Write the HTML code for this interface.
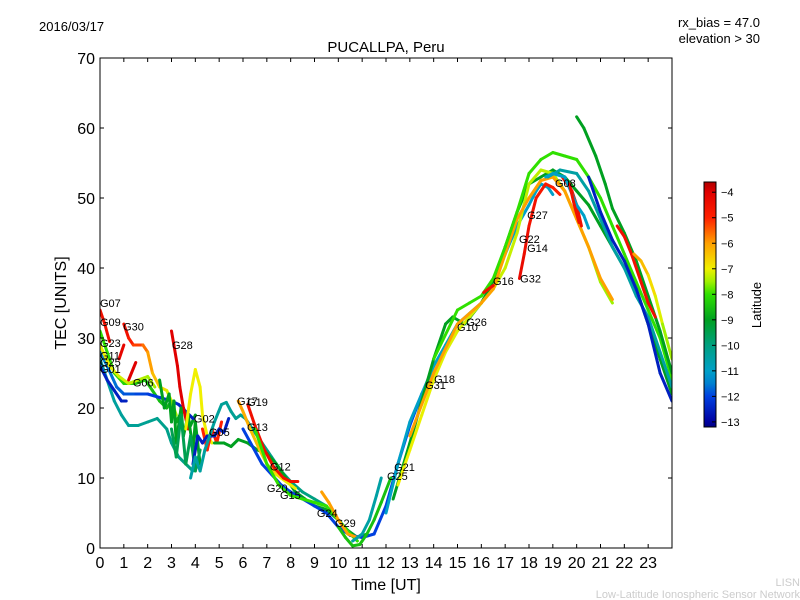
<!DOCTYPE html>
<html><head><meta charset="utf-8"><style>
body{margin:0;background:#fff;}
svg{display:block;font-family:"Liberation Sans","DejaVu Sans",sans-serif;}
</style></head><body>
<svg id="chart" width="800" height="600">
<defs>
<clipPath id="clip"><rect x="100" y="58" width="572" height="490"/></clipPath>
<linearGradient id="jet" x1="0" y1="1" x2="0" y2="0"></linearGradient>
</defs>
<text x="39" y="31" font-size="13">2016/03/17</text>
<text x="760" y="27" font-size="13" text-anchor="end">rx_bias = 47.0</text>
<text x="760" y="43" font-size="13" text-anchor="end">elevation &gt; 30</text>
<text x="386" y="52" font-size="15" text-anchor="middle">PUCALLPA, Peru</text>
<text x="386" y="590" font-size="16" text-anchor="middle">Time [UT]</text>
<text transform="translate(66,303) rotate(-90)" font-size="16" text-anchor="middle">TEC [UNITS]</text>
<text transform="translate(761,305) rotate(-90)" font-size="13" text-anchor="middle">Latitude</text>
<text x="800" y="586" font-size="11" fill="#ccc" text-anchor="end">LISN</text>
<text x="800" y="598" font-size="11" fill="#ccc" text-anchor="end">Low-Latitude Ionospheric Sensor Network</text>
<g id="tracks" clip-path="url(#clip)"></g>
<g id="labels"></g>
<g id="axes"></g>
<rect x="100" y="58" width="572" height="490" fill="none" stroke="#000" stroke-width="1"/>
<rect x="704" y="182" width="12" height="245" fill="url(#jet)" stroke="#000" stroke-width="1"/>
<g id="cbticks"></g>
</svg>
<script>
const xTicks = [0,1,2,3,4,5,6,7,8,9,10,11,12,13,14,15,16,17,18,19,20,21,22,23];
const yTicks = [0,10,20,30,40,50,60,70];
const cbTicks = [-4,-5,-6,-7,-8,-9,-10,-11,-12,-13];
const latMin = -13.2, latMax = -3.6;
const cmapLat = [-13.2,-13,-12,-11.5,-11,-10,-9,-8,-7.5,-7,-6,-5,-4,-3.6];
const cmapCol = [[0,0,128],[0,0,160],[0,64,224],[0,128,208],[0,160,200],[0,160,128],[0,160,32],[48,224,0],[160,240,0],[240,240,0],[255,160,0],[255,32,0],[224,0,0],[176,0,0]];
const trackLatStart = [-4.5,-8,-10.5,-12.5,-11.5,-4.5,-7,-4,-4.2,-4,-9,-9.5,-7,-5,-12.5,-10.5,-9,-6,-4.5,-12,-8,-6,-8.5,-10.5,-12,-11,-9,-7,-6,-8,-9,-10.5,-12.5,-4.5,-6,-4.5,-4.3,-4.5,-11,-4.5];
const trackLatEnd   = [-4.5,-9,-10,-12.5,-12.5,-7.5,-7.5,-4,-4.2,-4,-9,-9.5,-7,-5,-12.5,-10,-9,-7,-4.5,-12,-8,-6,-8.5,-10.5,-12,-11,-9,-7.5,-6,-8,-9,-10.5,-12.5,-4.5,-7.5,-4.5,-5,-4.5,-11,-4.5];
const trackPoints = [
 [[0,34],[0.2,32],[0.4,29.5]],
 [[0,31],[0.3,28],[0.6,25],[1,23.5],[1.5,23.5],[1.9,24],[2.2,22.5],[2.5,21],[2.8,20],[3,21],[3.2,18],[3.5,20],[3.8,17.5],[4,19]],
 [[0,27],[0.3,24],[0.6,21],[0.9,19],[1.2,17.5],[1.6,17.5],[2,18],[2.4,18.5],[2.8,17],[3,15],[3.3,13],[3.6,12],[3.9,11]],
 [[0,26],[0.3,24],[0.6,22.5],[0.9,21],[1.1,21]],
 [[0,28],[0.3,26],[0.7,23],[1,22],[1.5,22],[2,22],[2.5,21.5],[3,21],[3.3,20.5],[3.6,19.5],[3.9,18.5]],
 [[1,32],[1.2,30],[1.4,29],[1.8,29],[2,28],[2.2,25],[2.5,23],[2.8,22.5],[3,21],[3.2,19]],
 [[0,29],[0.4,26],[0.8,24.5],[1.2,23.5],[1.6,24],[2,24.5],[2.3,23]],
 [[1.2,24],[1.5,26.5]],
 [[0.8,27],[1,29]],
 [[3,31],[3.1,29],[3.25,26],[3.35,23],[3.5,20],[3.7,17]],
 [[2.5,24],[2.7,20],[2.9,22],[3.0,18],[3.1,21],[3.2,15],[3.4,20],[3.5,16],[3.7,19],[3.9,14],[4,18],[4.2,12]],
 [[3,17],[3.2,13],[3.4,19],[3.6,12],[3.8,16],[4,11],[4.2,14]],
 [[3.6,17],[3.8,22],[4,25.5],[4.2,23],[4.3,19],[4.5,16],[4.7,15]],
 [[4.3,17],[4.5,14],[4.7,17],[4.9,15],[5.1,18]],
 [[3.9,12],[4.1,16],[4.3,15],[4.5,16],[4.8,16],[5,17],[5.2,16.5],[5.3,17.5],[5.4,18.5]],
 [[3.8,10],[4.0,13],[4.2,11],[4.4,14],[4.6,16],[4.8,18],[5.1,20.5],[5.3,20.8],[5.5,19.5],[5.7,18.5],[5.9,19],[6.1,18.5],[6.4,17],[6.8,15],[7.2,13],[7.6,11],[8,9.5],[8.5,8],[9,7],[9.5,6]],
 [[4.8,15],[5.2,15],[5.5,14.5],[5.8,15.5],[6.2,15],[6.6,14],[7,13.5],[7.4,12],[7.8,10],[8.2,8],[8.6,7],[9,6],[9.5,5.5],[10,4],[10.4,2.5],[10.8,1.5],[11.2,2]],
 [[5.8,21],[6,19.5],[6.3,17],[6.7,14],[7,12],[7.4,10.5],[7.8,9.5],[8.2,8.5]],
 [[6.2,20.5],[6.5,17.5],[6.9,14],[7.3,11.5],[7.7,10],[8,9.5],[8.3,9.5]],
 [[6,17],[6.4,14.5],[6.8,12],[7.2,10.5],[7.6,9],[8,8],[8.5,7],[9,6],[9.5,5],[10,3],[10.5,1.8],[11,1.5],[11.5,2]],
 [[6.5,17],[7,12],[7.5,9],[8,7.5],[8.5,7],[9,6.5],[9.5,6],[10,4],[10.5,2],[10.8,1]],
 [[9.3,8],[9.6,6.5],[10,4],[10.4,2],[10.8,1.5]],
 [[10,3],[10.3,1.5],[10.6,0.3],[10.9,0.5],[11.2,2],[11.5,4],[11.8,6.5],[12.2,10]],
 [[10.6,1],[11,2],[11.3,4],[11.6,7.5],[11.8,10]],
 [[11.5,2],[12,6],[12.5,12],[13,17.5],[13.5,22],[14,25]],
 [[12,5],[12.5,12],[13,18],[13.5,22],[14,26],[14.5,29],[15,32],[15.5,33.5],[16,35],[16.5,38],[17,42],[17.5,46],[18,49],[18.3,51],[18.5,52],[18.8,51.5],[19,50.5]],
 [[12.3,7],[13,15],[13.5,21],[14,27],[14.5,32],[14.8,33],[15.3,32],[16,35],[16.5,38],[17,43],[17.5,48],[18,52],[18.5,53],[19,54],[19.5,53],[20,51],[20.5,49],[21,46],[21.5,43],[22,40],[22.5,37],[23,32],[23.5,27],[24,22]],
 [[12.5,9],[13,14],[13.5,19],[14,24],[14.5,28],[15,31],[15.5,33],[16,35],[16.5,37],[17,40],[17.5,45],[18,52],[18.5,54],[19,53.5],[19.5,51],[20,47],[20.5,43],[21,38],[21.5,35]],
 [[13,16],[14,25],[15,32],[16,35],[16.5,37],[17,42],[17.5,47],[18,50],[18.5,52.5],[19,53],[19.5,51],[20,47],[20.5,43],[21,38.5],[21.5,35.5]],
 [[14,27],[15,34],[15.5,35],[16,36],[16.5,38.5],[17,43],[17.5,48],[18,53.5],[18.5,55.5],[19,56.5],[19.5,56],[20,55.5],[20.5,53],[21,50],[21.5,46],[22,42],[22.5,38],[23,34],[23.5,30],[24,24]],
 [[20,61.6],[20.3,60],[20.8,56],[21.2,52],[21.5,48.5],[22,45],[22.5,41],[23,36],[23.5,31],[24,25]],
 [[18.8,53],[19.3,54],[20,53.5],[20.5,51],[21,47],[21.5,43],[22,40],[22.5,36],[23,33],[23.5,28],[24,23]],
 [[20.5,53],[21,48],[21.5,44],[22,41],[22.5,37],[23,32],[23.5,25],[24,21]],
 [[21.7,46],[22,44.5],[22.3,42],[22.7,38],[23,35],[23.3,33]],
 [[22.4,42],[22.7,41],[23,39],[23.3,36],[23.6,32],[24,27]],
 [[19.4,53],[19.8,51],[20,49],[20.2,46]],
 [[17.6,38.5],[17.8,42],[18,46],[18.3,50],[18.7,52],[19,51.5],[19.3,50.5]],
 [[16.1,36.5],[16.5,37.5]],
 [[18.7,53],[19,53.5],[19.5,53],[20,49],[20.3,47.5],[20.5,45.7]],
 [[19.7,52],[19.9,49],[20.1,46.5]]
];
const labelNames = ["G07","G09","G23","G11","G25","G01","G30","G06","G28","G02","G05","G17","G19","G13","G12","G20","G15","G24","G29","G21","G25","G31","G18","G10","G26","G16","G32","G14","G22","G27","G08"];
const labelT = [0,0,0,0,0,0,0.97,1.38,3.02,3.94,4.57,5.75,6.17,6.17,7.13,7.0,7.55,9.1,9.86,12.34,12.04,13.64,14.02,14.98,15.36,16.49,17.63,17.92,17.58,17.92,19.09];
const labelV = [34.4,31.7,28.7,26.9,26,25,31.1,23.1,28.4,17.9,16,20.4,20.3,16.7,11.1,8,7,4.4,3,11,9.7,22.7,23.6,31,31.7,37.6,37.9,42.3,43.6,47,51.6];

const NS="http://www.w3.org/2000/svg";
const X = t => 100 + t*572/24;
const Y = v => 548 - v*490/70;
const CBY = l => 182 + (latMax - l)*245/(latMax-latMin);
function cmap(l){
  l=Math.max(latMin,Math.min(latMax,l));
  for(let i=0;i<cmapLat.length-1;i++){
    if(l<=cmapLat[i+1]){
      const f=(l-cmapLat[i])/(cmapLat[i+1]-cmapLat[i]);
      const a=cmapCol[i],b=cmapCol[i+1];
      return `rgb(${Math.round(a[0]+(b[0]-a[0])*f)},${Math.round(a[1]+(b[1]-a[1])*f)},${Math.round(a[2]+(b[2]-a[2])*f)})`;
    }
  }
  return 'rgb(176,0,0)';
}
function mk(tag,attrs,parent){const e=document.createElementNS(NS,tag);for(const k in attrs)e.setAttribute(k,attrs[k]);parent.appendChild(e);return e;}
const grad=document.getElementById('jet');
cmapLat.forEach((l,i)=>{
  mk('stop',{offset:(l-latMin)/(latMax-latMin),'stop-color':`rgb(${cmapCol[i].join(',')})`},grad);
});
const gT=document.getElementById('tracks');
trackPoints.forEach((pts,i)=>{
  for(let j=0;j<pts.length-1;j++){
    const f=pts.length>2?j/(pts.length-2):0;
    const lat=trackLatStart[i]+(trackLatEnd[i]-trackLatStart[i])*f;
    const s=mk('line',{x1:X(pts[j][0]),y1:Y(pts[j][1]),x2:X(pts[j+1][0]),y2:Y(pts[j+1][1]),stroke:cmap(lat),'stroke-width':3,'stroke-linecap':'round'},gT);
    
    
  }
});
const gL=document.getElementById('labels');
labelNames.forEach((n,i)=>{
  const t=mk('text',{x:X(labelT[i]),y:Y(labelV[i]),'font-size':11,fill:'#000'},gL);
  t.textContent=n;
  
  
});
const gA=document.getElementById('axes');
xTicks.forEach(t=>{
  const x=X(t);
  const a=mk('line',{x1:x,y1:548,x2:x,y2:544,stroke:'#000'},gA);
  
  
  const b=mk('line',{x1:x,y1:58,x2:x,y2:62,stroke:'#000'},gA);
  
  
  const l=mk('text',{x:x,y:568,'font-size':16,'text-anchor':'middle'},gA);
  l.textContent=t;
  
  
});
yTicks.forEach(v=>{
  const y=Y(v);
  const a=mk('line',{x1:100,y1:y,x2:104,y2:y,stroke:'#000'},gA);
  
  
  const b=mk('line',{x1:672,y1:y,x2:668,y2:y,stroke:'#000'},gA);
  
  
  const l=mk('text',{x:95,y:y+6,'font-size':16,'text-anchor':'end'},gA);
  l.textContent=v;
  
  
});
const gC=document.getElementById('cbticks');
cbTicks.forEach(v=>{
  const y=CBY(v);
  const a=mk('line',{x1:716,y1:y,x2:712,y2:y,stroke:'#000'},gC);
  
  
  const l=mk('text',{x:721,y:y+4,'font-size':11},gC);
  l.textContent='\u2212'+Math.abs(v);
  
  
});
</script>
</body></html>
